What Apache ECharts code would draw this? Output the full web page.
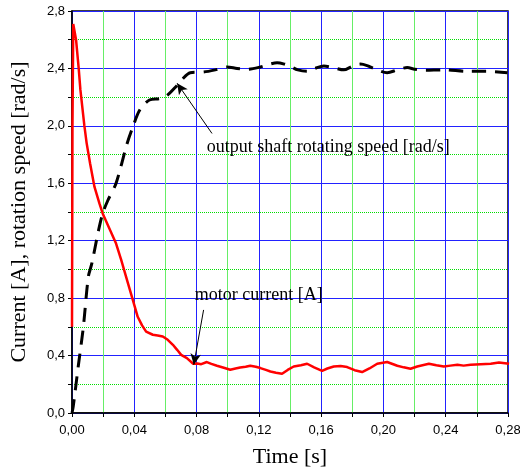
<!DOCTYPE html>
<html><head><meta charset="utf-8">
<script src="https://cdn.jsdelivr.net/npm/echarts@6/dist/echarts.min.js"></script>
<style>html,body{margin:0;padding:0;background:#fff}#c{width:520px;height:468px}</style>
</head><body><div id="c"></div>
<script>
const curT = [0,0.0003,0.0008,0.0016,0.0026,0.0043,0.0054,0.0079,0.0094,0.0116,0.0144,0.0176,0.0197,0.024,0.0283,0.0315,0.0347,0.039,0.0422,0.045,0.0476,0.0519,0.055,0.0583,0.0615,0.0648,0.0675,0.0701,0.0738,0.0778,0.0805,0.083,0.0866,0.0895,0.0931,0.0975,0.1016,0.105,0.108,0.1115,0.1145,0.118,0.121,0.1245,0.1274,0.131,0.1349,0.1385,0.1424,0.147,0.151,0.1555,0.1606,0.164,0.1681,0.1725,0.1767,0.1815,0.1863,0.191,0.196,0.2024,0.2089,0.213,0.2174,0.2217,0.2292,0.234,0.2388,0.243,0.2475,0.2515,0.256,0.2625,0.2689,0.2742,0.2807];
const curV = [0.6,2.0,2.71,2.70,2.60,2.40,2.25,2.005,1.88,1.74,1.576,1.46,1.39,1.285,1.18,1.07,0.95,0.79,0.67,0.61,0.567,0.545,0.54,0.533,0.51,0.475,0.44,0.405,0.382,0.343,0.345,0.34,0.355,0.342,0.329,0.315,0.301,0.31,0.317,0.322,0.329,0.322,0.313,0.3,0.289,0.28,0.273,0.3,0.324,0.333,0.343,0.318,0.294,0.31,0.324,0.328,0.32,0.298,0.285,0.31,0.343,0.355,0.329,0.318,0.308,0.324,0.343,0.332,0.324,0.33,0.336,0.33,0.336,0.34,0.343,0.352,0.343];
const spdT = [0,0.0008,0.004,0.0073,0.0105,0.0127,0.017,0.0197,0.023,0.0283,0.0352,0.039,0.0435,0.0497,0.0566,0.0609,0.0673,0.0705,0.0759,0.0845,0.092,0.0995,0.106,0.1124,0.121,0.127,0.1317,0.1365,0.1402,0.145,0.151,0.156,0.1617,0.168,0.1745,0.180,0.1853,0.1895,0.1938,0.2024,0.209,0.2153,0.22,0.226,0.2388,0.2539,0.2667,0.2796];
const spdV = [0,0.046,0.324,0.60,0.95,1.04,1.27,1.39,1.48,1.60,1.87,1.99,2.11,2.18,2.19,2.21,2.28,2.32,2.37,2.375,2.39,2.41,2.40,2.394,2.41,2.43,2.44,2.43,2.415,2.39,2.38,2.40,2.417,2.405,2.39,2.415,2.43,2.42,2.40,2.37,2.39,2.406,2.395,2.387,2.39,2.38,2.38,2.37];
const xTickLabels = ['0,00','0,04','0,08','0,12','0,16','0,20','0,24','0,28'];
const yTickLabels = ['0,0','0,4','0,8','1,2','1,6','2,0','2,4','2,8'];
const speedLabel = 'output shaft rotating speed [rad/s]';
const currentLabel = 'motor current [A]';
const speedArrow = [[0.0899,1.947],[0.0675,2.297]];
const currentArrow = [[0.0845,0.718],[0.0782,0.336]];

const chart = echarts.init(document.getElementById('c'));
const tickFont = {fontFamily:'Liberation Sans, Arial, sans-serif', fontSize:13, color:'#000'};
const serif = 'Liberation Serif, Times New Roman, serif';
chart.setOption({
  animation:false,
  grid:{left:72,right:12,top:11,bottom:55,outerBoundsMode:'none',containLabel:false,show:true,borderColor:'#000',borderWidth:1.5,backgroundColor:'transparent'},
  xAxis:{type:'value',min:0,max:0.28,interval:0.04,
    name:'Time [s]',nameLocation:'middle',nameGap:33,
    nameTextStyle:{fontFamily:serif,fontSize:22,color:'#000',verticalAlign:'top'},
    axisLine:{lineStyle:{color:'#000',width:1.5}},
    axisTick:{show:true,length:4,lineStyle:{color:'#000'}},
    minorTick:{show:true,splitNumber:2,length:4,lineStyle:{color:'#000'}},
    axisLabel:Object.assign({margin:11,formatter:(v)=>xTickLabels[Math.round(v/0.04)]},tickFont),
    splitLine:{show:true,lineStyle:{color:'#2222ff',width:1}},
    minorSplitLine:{show:true,lineStyle:{color:'#66ee66',width:1}}
  },
  yAxis:{type:'value',min:0,max:2.8,interval:0.4,
    name:'Current [A], rotation speed [rad/s]',nameLocation:'middle',nameGap:42,
    nameTextStyle:{fontFamily:serif,fontSize:22,color:'#000'},
    axisLine:{show:true,lineStyle:{color:'#000',width:1.5}},
    axisTick:{show:true,length:4,lineStyle:{color:'#000'}},
    minorTick:{show:true,splitNumber:2,length:4,lineStyle:{color:'#000'}},
    axisLabel:Object.assign({margin:7,formatter:(v)=>yTickLabels[Math.round(v/0.4)]},tickFont),
    splitLine:{show:true,lineStyle:{color:'#2222ff',width:1}},
    minorSplitLine:{show:true,lineStyle:{color:'#00dd00',width:1,type:[1,1]}}
  },
  series:[
    {type:'line',name:'speed',data:spdT.map((t,i)=>[t,spdV[i]]),showSymbol:false,smooth:0.3,
     lineStyle:{color:'#000',width:3,type:[14,9]},z:3,
     markLine:{silent:true,symbol:['none','arrow'],symbolSize:[8,11],label:{show:false},
       lineStyle:{color:'#000',width:1,type:'solid'},
       data:[[{coord:speedArrow[0]},{coord:speedArrow[1]}]]}},
    {type:'line',name:'current',data:curT.map((t,i)=>[t,curV[i]]),showSymbol:false,
     lineStyle:{color:'#ff0000',width:2.5},z:4,
     markLine:{silent:true,symbol:['none','arrow'],symbolSize:[8,11],label:{show:false},
       lineStyle:{color:'#000',width:1,type:'solid'},
       data:[[{coord:currentArrow[0]},{coord:currentArrow[1]}]]}}
  ]
});
const p1 = chart.convertToPixel({gridIndex:0},[0.0866,1.855]);
const p2 = chart.convertToPixel({gridIndex:0},[0.0789,0.825]);
chart.setOption({graphic:[
  {type:'text',left:p1[0],top:p1[1]-8,style:{text:speedLabel,font:'18px "Liberation Serif", serif',fill:'#000'}},
  {type:'text',left:p2[0],top:p2[1]-8,style:{text:currentLabel,font:'18px "Liberation Serif", serif',fill:'#000'}}
]});
</script></body></html>
